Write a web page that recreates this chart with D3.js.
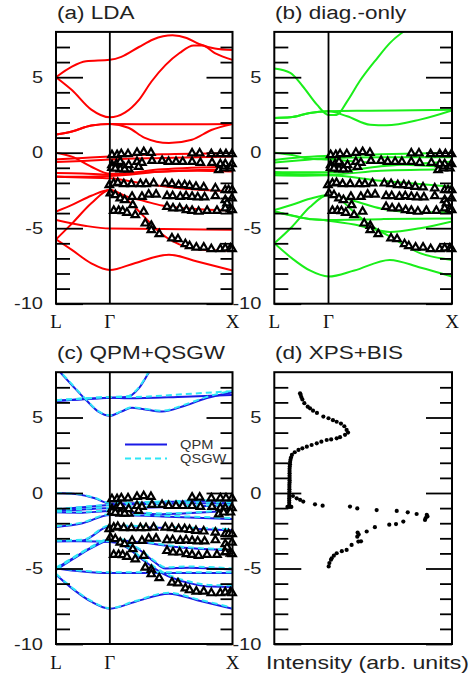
<!DOCTYPE html>
<html>
<head>
<meta charset="utf-8">
<script src="https://cdn.jsdelivr.net/npm/d3@7"></script>
<style>
  body { margin: 0; background: #fff; }
  svg { display: block; }
</style>
</head>
<body>
<script>
// k runs along the path L -> Gamma -> X (0 .. 1), energies in eV

const kLabels = ['L', 'Γ', 'X'];
const kPos = [0, 0.305, 1];
const eMajor = [-10, -5, 0, 5];
const eMinor = [-9, -8, -7, -6, -4, -3, -2, -1, 1, 2, 3, 4, 6, 7];

// (a) LDA bands, knots [k, E]
const ldaBands = [
  [[0, 5.0], [0.09, 5.7], [0.17, 6.05], [0.305, 6.15], [0.37, 6.35], [0.47, 7.0], [0.55, 7.5], [0.66, 7.77], [0.74, 7.6], [0.81, 7.2], [0.9, 6.9], [1, 6.8]],
  [[0, 5.0], [0.09, 4.15], [0.2, 2.85], [0.305, 2.34], [0.39, 2.65], [0.47, 3.5], [0.54, 4.7], [0.62, 5.8], [0.7, 6.6], [0.78, 7.1], [0.83, 7.1], [0.9, 6.6], [1, 6.15]],
  [[0, 1.2], [0.09, 1.4], [0.2, 1.8], [0.305, 1.9], [0.6, 1.88], [1, 1.9]],
  [[0, 1.2], [0.09, 1.4], [0.2, 1.8], [0.305, 1.9], [0.41, 1.65], [0.5, 1.0], [0.64, 0.64], [0.77, 0.86], [0.88, 1.5], [1, 1.9]],
  [[0, 0], [0.09, -0.26], [0.2, -0.93], [0.305, -1.4], [0.5, -1.3], [0.8, -1.2], [1, -1.25]],
  [[0, -0.45], [0.15, -0.35], [0.305, -0.25], [0.6, -0.1], [1, -0.03]],
  [[0, -0.62], [0.15, -0.55], [0.305, -0.45], [0.6, -0.35], [1, -0.25]],
  [[0, -1.35], [0.15, -1.38], [0.305, -1.45], [0.6, -1.1], [1, -0.93]],
  [[0, -1.58], [0.15, -1.6], [0.305, -1.55], [0.6, -1.25], [1, -1.1]],
  [[0, -1.6], [0.15, -1.65], [0.305, -1.7], [0.5, -2.05], [0.7, -2.35], [1, -2.55]],
  [[0, -3.9], [0.1, -3.4], [0.2, -2.85], [0.305, -2.47], [0.4, -2.9], [0.5, -3.2], [0.6, -3.5], [0.75, -3.7], [1, -3.83]],
  [[0, -5.74], [0.09, -4.7], [0.2, -3.35], [0.305, -2.47], [0.38, -2.9], [0.48, -4.0], [0.59, -5.3], [0.74, -6.25], [0.85, -6.45], [1, -6.5]],
  [[0, -4.45], [0.17, -4.85], [0.305, -5.02], [0.6, -5.05], [1, -5.1]],
  [[0, -5.74], [0.09, -6.44], [0.2, -7.33], [0.305, -7.77], [0.45, -7.3], [0.64, -6.75], [0.8, -7.2], [1, -7.8]]
];

// (b) diagonal-only bands
const diagBands = [
  [[0, 5.57], [0.09, 5.28], [0.16, 4.4], [0.24, 3.18], [0.305, 2.5], [0.35, 2.5], [0.41, 3.4], [0.48, 4.73], [0.58, 6.27], [0.65, 7.26], [0.73, 8.04], [0.85, 8.8], [1, 9.2]],
  [[0, 2.3], [0.09, 2.34], [0.2, 2.63], [0.305, 2.74], [0.54, 2.78], [1, 2.85]],
  [[0, 2.3], [0.09, 2.34], [0.2, 2.63], [0.305, 2.74], [0.41, 2.41], [0.54, 1.85], [0.63, 1.81], [0.82, 2.19], [1, 2.8]],
  [[0, 0], [0.1, -0.15], [0.2, -0.4], [0.305, -0.45], [0.6, -0.7], [1, -0.95]],
  [[0, -0.48], [0.15, -0.3], [0.305, -0.2], [0.6, -0.1], [1, 0.0]],
  [[0, -0.65], [0.15, -0.5], [0.305, -0.35], [0.6, -0.3], [1, -0.3]],
  [[0, -1.28], [0.15, -1.3], [0.305, -1.3], [0.6, -0.9], [1, -0.6]],
  [[0, -1.4], [0.15, -1.42], [0.305, -1.45], [0.6, -1.2], [1, -1.1]],
  [[0, -1.5], [0.15, -1.52], [0.305, -1.5], [0.6, -1.85], [1, -2.25]],
  [[0, -3.8], [0.1, -3.45], [0.2, -3.05], [0.305, -2.8], [0.45, -3.2], [0.6, -3.7], [0.8, -3.95], [1, -3.95]],
  [[0, -6.0], [0.1, -4.9], [0.2, -3.6], [0.305, -2.8], [0.38, -3.2], [0.45, -3.95], [0.54, -4.8], [0.65, -5.55], [0.82, -6.65], [1, -7.1]],
  [[0, -3.9], [0.1, -4.15], [0.2, -4.4], [0.305, -4.45], [0.6, -4.4], [1, -4.35]],
  [[0, -3.9], [0.15, -4.3], [0.305, -4.5], [0.45, -4.75], [0.65, -5.25], [0.82, -5.0], [1, -4.55]],
  [[0, -6.0], [0.1, -7.0], [0.2, -7.8], [0.305, -8.2], [0.45, -7.8], [0.65, -7.1], [0.82, -7.6], [1, -8.2]]
];

// (c) QPM bands
const qpmBands = [
  [[0, 8.3], [0.09, 7.15], [0.17, 6.16], [0.24, 5.39], [0.305, 5.12], [0.37, 5.39], [0.43, 5.65], [0.49, 5.56], [0.6, 5.39], [0.73, 5.78], [0.85, 6.27], [1, 6.67]],
  [[0, 6.11], [0.17, 6.22], [0.305, 6.31], [0.41, 6.27], [0.73, 6.38], [1, 6.49]],
  [[0, 6.11], [0.17, 6.22], [0.305, 6.31], [0.4, 6.35], [0.47, 6.95], [0.53, 8.05], [0.6, 9.2]],
  [[0, 0], [0.12, -0.08], [0.22, -0.35], [0.305, -0.7], [0.6, -0.6], [1, -0.48]],
  [[0, -1.1], [0.15, -0.95], [0.305, -0.8], [0.6, -0.72], [1, -0.66]],
  [[0, -1.2], [0.15, -1.1], [0.305, -1.0], [0.6, -0.95], [1, -0.82]],
  [[0, -1.28], [0.15, -1.3], [0.305, -1.2], [0.6, -1.4], [1, -1.15]],
  [[0, -2.25], [0.15, -2.0], [0.305, -1.45], [0.6, -1.55], [1, -1.72]],
  [[0, -3.2], [0.15, -3.15], [0.305, -2.2], [0.6, -2.3], [1, -2.47]],
  [[0, -5.0], [0.1, -4.3], [0.2, -3.6], [0.305, -3.1], [0.5, -3.3], [0.7, -3.6], [1, -3.8]],
  [[0, -3.2], [0.15, -3.2], [0.305, -3.25], [0.45, -3.6], [0.55, -4.5], [0.62, -5.0], [0.75, -4.95], [1, -5.07]],
  [[0, -5.0], [0.15, -5.2], [0.305, -5.3], [0.6, -5.3], [1, -5.3]],
  [[0, -5.1], [0.1, -4.35], [0.2, -3.65], [0.305, -3.15], [0.4, -3.6], [0.5, -4.5], [0.6, -5.3], [0.75, -5.95], [0.88, -6.2], [1, -6.22]],
  [[0, -5.4], [0.1, -6.4], [0.2, -7.2], [0.305, -7.66], [0.45, -7.2], [0.64, -6.67], [0.8, -7.1], [1, -7.66]]
];

// (c) QSGW bands
const qsgwBands = [
  [[0, 8.35], [0.09, 7.2], [0.17, 6.2], [0.24, 5.42], [0.305, 5.15], [0.37, 5.42], [0.43, 5.68], [0.49, 5.6], [0.6, 5.45], [0.73, 5.85], [0.85, 6.35], [1, 6.78]],
  [[0, 6.15], [0.17, 6.27], [0.305, 6.36], [0.41, 6.35], [0.73, 6.55], [1, 6.75]],
  [[0, 6.15], [0.17, 6.27], [0.305, 6.36], [0.4, 6.4], [0.47, 7.0], [0.53, 8.1], [0.6, 9.25]],
  [[0, 0], [0.12, -0.06], [0.22, -0.32], [0.305, -0.66], [0.6, -0.56], [1, -0.44]],
  [[0, -1.06], [0.15, -0.92], [0.305, -0.77], [0.6, -0.69], [1, -0.62]],
  [[0, -1.15], [0.15, -1.05], [0.305, -0.96], [0.6, -0.9], [1, -0.78]],
  [[0, -1.24], [0.15, -1.26], [0.305, -1.16], [0.6, -1.35], [1, -1.1]],
  [[0, -2.2], [0.15, -1.95], [0.305, -1.4], [0.6, -1.5], [1, -1.66]],
  [[0, -3.15], [0.15, -3.1], [0.305, -2.15], [0.6, -2.24], [1, -2.4]],
  [[0, -4.95], [0.1, -4.25], [0.2, -3.55], [0.305, -3.05], [0.5, -3.25], [0.7, -3.55], [1, -3.74]],
  [[0, -3.15], [0.15, -3.15], [0.305, -3.2], [0.45, -3.55], [0.55, -4.42], [0.62, -4.92], [0.75, -4.87], [1, -5.0]],
  [[0, -4.95], [0.15, -5.15], [0.305, -5.25], [0.6, -5.25], [1, -5.24]],
  [[0, -5.05], [0.1, -4.3], [0.2, -3.6], [0.305, -3.1], [0.4, -3.55], [0.5, -4.42], [0.6, -5.2], [0.75, -5.85], [0.88, -6.1], [1, -6.12]],
  [[0, -5.35], [0.1, -6.35], [0.2, -7.15], [0.305, -7.62], [0.45, -7.15], [0.64, -6.6], [0.8, -7.03], [1, -7.6]]
];

// experimental band points [k, E] (triangles)
const arpes = [
  [0.317, -0.15], [0.346, -0.15], [0.370, -0.09], [0.408, -0.09], [0.459, 0.0], [0.497, 0.05], [0.538, 0.0],
  [0.771, -0.04], [0.814, -0.04], [0.880, -0.09], [0.931, -0.09], [0.963, -0.09], [0.997, -0.09],
  [0.317, -0.81], [0.342, -0.75], [0.364, -0.6], [0.384, -0.93], [0.412, -1.1], [0.459, -0.6], [0.487, -0.66],
  [0.544, -0.53], [0.601, -0.53], [0.638, -0.6], [0.680, -0.6], [0.718, -0.6], [0.771, -0.6], [0.818, -0.66],
  [0.884, -0.66], [0.931, -0.75], [0.959, -0.75], [0.997, -0.75], [0.922, -1.15], [0.950, -1.03], [0.988, -1.03],
  [0.364, -1.1], [0.389, -1.1], [0.412, -0.81], [0.468, -0.93], [0.317, -1.0], [0.336, -1.05],
  [0.302, -2.14], [0.327, -2.03], [0.350, -1.99], [0.384, -2.07], [0.427, -2.07], [0.478, -2.07], [0.510, -2.07],
  [0.553, -2.03], [0.619, -2.03], [0.657, -2.07], [0.695, -2.14], [0.729, -2.14], [0.757, -2.19], [0.793, -2.25],
  [0.837, -2.29], [0.903, -2.36], [0.959, -2.47], [0.978, -2.47], [0.998, -2.47],
  [0.308, -2.69], [0.336, -2.8], [0.364, -3.02], [0.389, -3.13], [0.431, -2.91], [0.487, -2.91], [0.525, -2.76],
  [0.567, -2.76], [0.629, -2.87], [0.661, -2.87], [0.704, -2.91], [0.737, -2.87], [0.771, -2.91], [0.803, -2.95],
  [0.842, -2.95], [0.903, -2.87], [0.959, -3.13], [0.969, -3.35], [0.997, -3.02],
  [0.327, -3.84], [0.355, -3.84], [0.378, -3.86], [0.402, -3.97], [0.449, -4.13], [0.497, -3.9], [0.629, -3.58],
  [0.663, -3.68], [0.701, -3.68], [0.739, -3.79], [0.771, -3.84], [0.808, -3.9], [0.856, -3.84], [0.912, -3.84],
  [0.959, -3.68], [0.988, -3.75], [0.998, -3.79],
  [0.435, -3.46], [0.506, -4.68], [0.540, -4.83], [0.540, -5.12], [0.585, -5.38], [0.657, -5.67], [0.691, -5.72],
  [0.733, -6.05], [0.757, -6.18], [0.795, -6.27], [0.837, -6.27], [0.880, -6.38], [0.931, -6.38], [0.959, -6.33],
  [0.988, -6.33], [0.998, -6.38]
];
// the experimental points sit this much lower in panel (c)
const arpesShiftC = -0.25;

// (d) spectrum [intensity, E]
const bisSpectrum = [
  [14.5, 6.6], [14.8, 6.5], [15.2, 6.35], [15.8, 6.2], [16.9, 5.95], [18.8, 5.72], [20.1, 5.61], [21.8, 5.45],
  [24, 5.3], [27.6, 5.06], [30.5, 4.95], [33, 4.82], [35.1, 4.72], [37.5, 4.6], [39.4, 4.42], [40.7, 4.18],
  [41.5, 4.0], [39.8, 3.85], [37, 3.7], [35.1, 3.62], [32, 3.55], [29.5, 3.51], [26.5, 3.4], [23.9, 3.29],
  [21, 3.18], [18.3, 3.07], [15.8, 2.96], [13.6, 2.85], [11.5, 2.7], [9.9, 2.52], [9.4, 2.35], [9.1, 2.2],
  [8.9, 2.05], [8.8, 1.9], [8.7, 1.75], [8.6, 1.6], [8.6, 1.45], [8.6, 1.3], [8.6, 1.15], [8.6, 1.0],
  [8.6, 0.85], [8.6, 0.7], [8.5, 0.55], [8.5, 0.4], [8.5, 0.25], [8.5, 0.1], [8.4, -0.05], [8.4, -0.2],
  [8.4, -0.35], [8.4, -0.5], [8.4, -0.65], [8.4, -0.8], [8.4, -0.92], [7.4, -0.92], [9.6, -0.92]
];
const xpsSpectrum = [
  [10.5, -0.2], [12.6, -0.35], [14.5, -0.45], [16.3, -0.57], [22.9, -0.75], [27.2, -0.84], [42.6, -0.9],
  [46.7, -1.02], [57.6, -1.13], [68.9, -1.19], [75.1, -1.28], [80.1, -1.39], [85.8, -1.45], [86.2, -1.55],
  [85.2, -1.66], [84.8, -1.78], [72.6, -1.89], [68.5, -2.06], [64.7, -2.1], [56.6, -2.26], [52, -2.55],
  [46.9, -2.62], [47.5, -2.75], [46.7, -2.89], [48.8, -3.2], [47.3, -3.22], [43.5, -3.44], [40.7, -3.77],
  [38, -3.85], [35.1, -3.99], [33.5, -4.15], [32.3, -4.32], [31.9, -4.42], [31, -4.64], [30.6, -4.86]
];

const legendNames = ['QPM', 'QSGW'];

const W = 472;
const H = 684;
const SX = 1.25; // the lettering in the figure is stretched sideways
const sans = '"Liberation Sans", Arial, Helvetica, sans-serif';
const serif = '"Liberation Serif", "Times New Roman", serif';
const cQpm = '#1a1ae6';
const cQsgw = '#2ee6f5';

const svg = d3.select('body').append('svg').attr('width', W).attr('height', H);

const boxes = {
  a: { x0: 56, x1: 232.5, top: 31.9, bot: 303.7 },
  b: { x0: 274.3, x1: 452, top: 31.9, bot: 303.7 },
  c: { x0: 56, x1: 232.5, top: 372.2, bot: 644 },
  d: { x0: 274.3, x1: 452, top: 372.2, bot: 644 }
};

const stretchedText = (x, y, txt, size, anchor) => svg.append('text')
  .attr('transform', `translate(${x},${y}) scale(${SX},1)`)
  .attr('text-anchor', anchor || 'start')
  .attr('font-family', sans)
  .attr('font-size', size)
  .attr('fill', '#222')
  .text(txt);

const makePanel = (key, xDomain) => {
  const b = boxes[key];
  const x = d3.scaleLinear().domain(xDomain).range([b.x0, b.x1]);
  const y = d3.scaleLinear().domain([-10, 8]).range([b.bot, b.top]);
  svg.append('clipPath').attr('id', 'clip-' + key)
    .append('rect')
    .attr('x', b.x0).attr('y', b.top)
    .attr('width', b.x1 - b.x0).attr('height', b.bot - b.top);
  const g = svg.append('g');
  return { key, b, x, y, g };
};

const drawAxes = (P) => {
  const { b, y, g } = P;
  const put = (axis, tx) => {
    const a = g.append('g').attr('transform', `translate(${tx},0)`).call(axis);
    a.select('.domain').remove();
    a.selectAll('line').attr('stroke', '#000').attr('stroke-width', 1.8);
    return a;
  };
  put(d3.axisLeft(y).tickValues(eMinor).tickSize(-14).tickFormat(''), b.x0);
  put(d3.axisRight(y).tickValues(eMinor).tickSize(-12).tickFormat(''), b.x1);
  put(d3.axisRight(y).tickValues(eMajor).tickSize(-26).tickFormat(''), b.x1);
  const major = put(d3.axisLeft(y).tickValues(eMajor).tickSize(-27).tickPadding(13).tickFormat((d) => String(d)), b.x0);
  major.selectAll('text')
    .attr('x', -13 / SX)
    .attr('transform', `scale(${SX},1)`)
    .attr('font-family', sans)
    .attr('font-size', 16)
    .attr('fill', '#222');
};

const drawFrame = (P, withGamma) => {
  const { b, x, g } = P;
  if (withGamma) {
    g.append('line')
      .attr('x1', x(kPos[1])).attr('x2', x(kPos[1]))
      .attr('y1', b.top).attr('y2', b.bot)
      .attr('stroke', '#000').attr('stroke-width', 1.8);
  }
  g.append('rect')
    .attr('x', b.x0).attr('y', b.top)
    .attr('width', b.x1 - b.x0).attr('height', b.bot - b.top)
    .attr('fill', 'none').attr('stroke', '#000').attr('stroke-width', 2);
};

const drawBands = (P, bands, color, dash) => {
  const line = d3.line()
    .x((d) => P.x(d[0]))
    .y((d) => P.y(d[1]))
    .curve(d3.curveMonotoneX);
  P.g.append('g').attr('clip-path', `url(#clip-${P.key})`)
    .selectAll('path')
    .data(bands)
    .join('path')
    .attr('d', line)
    .attr('fill', 'none')
    .attr('stroke', color)
    .attr('stroke-width', 2)
    .attr('stroke-dasharray', dash || null);
};

const drawArpes = (P, shift) => {
  const tri = d3.symbol().type(d3.symbolTriangle).size(24);
  P.g.append('g')
    .selectAll('path')
    .data(arpes)
    .join('path')
    .attr('transform', (d) => `translate(${P.x(d[0])},${P.y(d[1] + shift)})`)
    .attr('d', tri)
    .attr('fill', '#fff')
    .attr('stroke', '#000')
    .attr('stroke-width', 2.2)
    .attr('stroke-linejoin', 'miter');
};

const drawKLabels = (P, baseline) => {
  P.g.selectAll('text.k')
    .data(kLabels)
    .join('text')
    .attr('class', 'k')
    .attr('x', (d, i) => P.x(kPos[i]))
    .attr('y', baseline)
    .attr('text-anchor', 'middle')
    .attr('font-family', serif)
    .attr('font-size', 19)
    .attr('fill', '#111')
    .text((d) => d);
};

// (a) LDA
const pa = makePanel('a', [0, 1]);
drawBands(pa, ldaBands, '#ff0000');
drawArpes(pa, 0);
drawAxes(pa);
drawFrame(pa, true);
drawKLabels(pa, 328);
stretchedText(57, 19, '(a) LDA', 18);

// (b) diag.-only
const pb = makePanel('b', [0, 1]);
drawBands(pb, diagBands, '#1aee1a');
drawArpes(pb, 0);
drawAxes(pb);
drawFrame(pb, true);
drawKLabels(pb, 328);
stretchedText(275, 19, '(b) diag.-only', 18);

// (c) QPM + QSGW
const pc = makePanel('c', [0, 1]);
drawBands(pc, qpmBands, cQpm);
drawBands(pc, qsgwBands, cQsgw, '6,4');
drawArpes(pc, arpesShiftC);
drawAxes(pc);
drawFrame(pc, true);
drawKLabels(pc, 668.5);
stretchedText(57, 359, '(c) QPM+QSGW', 18);

// legend
const legendStyles = [[cQpm, null], [cQsgw, '6,4']];
legendNames.forEach((name, i) => {
  const ly = 444.5 + i * 14;
  svg.append('line')
    .attr('x1', 125).attr('x2', 167).attr('y1', ly).attr('y2', ly)
    .attr('stroke', legendStyles[i][0]).attr('stroke-width', 2)
    .attr('stroke-dasharray', legendStyles[i][1]);
  svg.append('text')
    .attr('transform', `translate(180,${ly + 4.3}) scale(1.2,1)`)
    .attr('font-family', sans)
    .attr('font-size', 12.2)
    .attr('fill', '#333')
    .text(name);
});

// (d) XPS + BIS
const pd = makePanel('d', [0, 100]);
pd.g.append('g')
  .selectAll('circle')
  .data(bisSpectrum.concat(xpsSpectrum))
  .join('circle')
  .attr('cx', (d) => pd.x(d[0]))
  .attr('cy', (d) => pd.y(d[1]))
  .attr('r', 2.1)
  .attr('fill', '#000');
drawAxes(pd);
drawFrame(pd, false);
stretchedText(275, 359, '(d) XPS+BIS', 18);
stretchedText(367.5, 668.5, 'Intensity (arb. units)', 18.5, 'middle');
</script>
</body>
</html>
